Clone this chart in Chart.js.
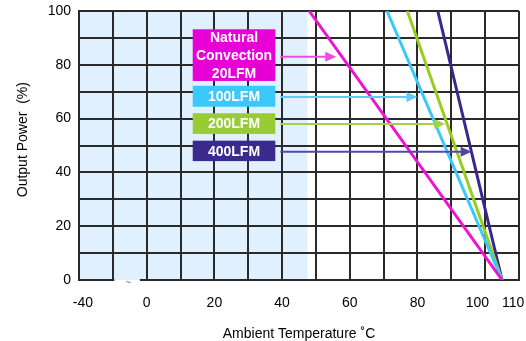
<!DOCTYPE html>
<html>
<head>
<meta charset="utf-8">
<script src="https://cdn.jsdelivr.net/npm/chart.js@4.4.1/dist/chart.umd.min.js"></script>
<style>
  html, body { margin: 0; padding: 0; background: #fff; }
  #wrap { width: 526px; height: 341px; position: relative; }
</style>
</head>
<body>
<div id="wrap"><canvas id="derating"></canvas></div>
<script>
// Output power derating against ambient temperature, one line per airflow
const seriesNames = ['Natural Convection 20LFM', '100LFM', '200LFM', '400LFM'];
const boxLabels = [['Natural', 'Convection', '20LFM'], ['100LFM'], ['200LFM'], ['400LFM']];
const derateStartTemp = [48, 71, 77, 86];      // °C where full power ends
const derateEndTemp = [105, 105, 105, 105];    // °C where output reaches zero
const fullPower = 100;
const zeroPower = 0;

// Temperature axis: the first division is a broken segment ending at -40 °C
const xTickValues = [-20, 0, 20, 40, 60, 80, 100, 110];
const xTickLabels = ['-40', '0', '20', '40', '60', '80', '100', '110'];
const yTickLabels = [0, 20, 40, 60, 80, 100];
const shadedUpTo = 47.5;   // °C, end of the full-power region

const lineColors = ['#ee12d2', '#3cc8f8', '#99cc22', '#36288c'];
const boxColors = ['#e600d6', '#3cc8f8', '#99cc33', '#3b2a8e'];
const arrowColors = ['#f04ce0', '#5ccdf8', '#a3d044', '#5546a6'];
const shadeColor = '#e0f0ff';
const gridColor = '#2a2a2a';
const FONT = "'Liberation Sans', Arial, Helvetica, sans-serif";

// Callout boxes and pointer arrows, in axis units
const callout = {
  left: 13.6, right: 38, arrowFrom: 39.5,
  spans: [[93.2, 74], [72.2, 64.4], [62, 54.3], [51.8, 44.2]],
  arrowLevel: [83, 68, 58, 47.7],
  arrowTip: [56, 80, 88.2, 96]
};
const axisBreak = { from: -10, to: -2 };

// Label nudges so end labels clear the break and the right edge
const labelPad = { '-40': '  -40', '100': '100    ', '110': '110   ' };

Chart.defaults.font.family = FONT;
Chart.defaults.font.size = 14;
Chart.defaults.color = '#000';

const shadePlugin = {
  id: 'shade',
  beforeDraw(chart) {
    const { ctx, chartArea: a, scales: { x } } = chart;
    ctx.save();
    ctx.fillStyle = shadeColor;
    const r = x.getPixelForValue(shadedUpTo);
    ctx.fillRect(a.left, a.top, r - a.left, a.bottom - a.top);
    ctx.restore();
  }
};

const calloutPlugin = {
  id: 'callouts',
  afterDatasetsDraw(chart) {
    const { ctx, scales: { x, y } } = chart;
    ctx.save();
    const l = x.getPixelForValue(callout.left);
    const r = x.getPixelForValue(callout.right);
    boxLabels.forEach((lines, i) => {
      const [hi, lo] = callout.spans[i];
      const t = y.getPixelForValue(hi), b = y.getPixelForValue(lo);
      ctx.fillStyle = boxColors[i];
      ctx.fillRect(l, t, r - l, b - t);
      ctx.fillStyle = '#fff';
      ctx.font = 'bold 14px ' + FONT;
      ctx.textAlign = 'center';
      ctx.textBaseline = 'middle';
      const cx = (l + r) / 2, cy = (t + b) / 2, lh = 18;
      lines.forEach((s, k) => {
        ctx.fillText(s, cx, cy + (k - (lines.length - 1) / 2) * lh + 1);
      });

      // arrow to its curve
      const ay = y.getPixelForValue(callout.arrowLevel[i]);
      const ax0 = x.getPixelForValue(callout.arrowFrom);
      const tip = x.getPixelForValue(callout.arrowTip[i]);
      ctx.strokeStyle = arrowColors[i];
      ctx.fillStyle = arrowColors[i];
      ctx.lineWidth = 2;
      ctx.beginPath();
      ctx.moveTo(ax0, ay);
      ctx.lineTo(tip - 8, ay);
      ctx.stroke();
      ctx.beginPath();
      ctx.moveTo(tip, ay);
      ctx.lineTo(tip - 11, ay - 5);
      ctx.lineTo(tip - 11, ay + 5);
      ctx.closePath();
      ctx.fill();
    });
    ctx.restore();
  },
  afterDraw(chart) {
    // break in the temperature axis
    const { ctx, chartArea: a, scales: { x } } = chart;
    const x0 = x.getPixelForValue(axisBreak.from) + 1.5;
    const x1 = x.getPixelForValue(axisBreak.to);
    ctx.save();
    ctx.fillStyle = shadeColor;
    ctx.fillRect(x0, a.bottom - 1.5, x1 - x0, 1.5);
    ctx.fillStyle = '#fff';
    ctx.fillRect(x0, a.bottom, x1 - x0, 2);
    ctx.fillStyle = '#8a8270';
    ctx.font = '10px ' + FONT;
    ctx.textAlign = 'center';
    ctx.textBaseline = 'middle';
    ctx.fillText('~', (x0 + x1) / 2 + 1, a.bottom + 3);
    ctx.restore();
  }
};

const datasets = seriesNames.map((name, i) => ({
  label: name,
  data: [{ x: derateStartTemp[i], y: fullPower }, { x: derateEndTemp[i], y: zeroPower }],
  borderColor: lineColors[i],
  backgroundColor: lineColors[i],
  borderWidth: 3,
  pointRadius: 0,
  tension: 0,
  fill: false
}));

new Chart(document.getElementById('derating'), {
  type: 'line',
  data: { datasets },
  plugins: [shadePlugin, calloutPlugin],
  options: {
    responsive: true,
    maintainAspectRatio: false,
    animation: false,
    events: [],
    layout: { padding: { left: 0, right: 7, top: 11, bottom: 0 } },
    plugins: { legend: { display: false }, tooltip: { enabled: false } },
    scales: {
      x: {
        type: 'linear',
        min: -20, max: 110,
        afterFit(axis) { axis.height = 61; axis.paddingLeft = 0; axis.paddingRight = 0; },
        ticks: {
          stepSize: 10, autoSkip: false, maxRotation: 0, padding: 15,
          callback(v) {
            const k = xTickValues.indexOf(v);
            if (k < 0) return '';
            const s = xTickLabels[k];
            return labelPad[s] || s;
          }
        },
        grid: { color: gridColor, lineWidth: 2, drawTicks: false },
        border: { color: gridColor, width: 2 },
        title: {
          display: true, text: 'Ambient Temperature ˚C',
          font: { size: 14, lineHeight: 1 }, padding: { top: 0, bottom: 0 }, color: '#000'
        }
      },
      y: {
        min: 0, max: 100,
        afterFit(axis) { axis.width = 79; axis.paddingTop = 0; axis.paddingBottom = 0; },
        ticks: {
          stepSize: 10, autoSkip: false, padding: 8,
          callback(v) { return yTickLabels.includes(v) ? String(v) : ''; }
        },
        grid: { color: gridColor, lineWidth: 2, drawTicks: false },
        border: { color: gridColor, width: 2 },
        title: {
          display: true, text: '   Output Power  (%)',
          font: { size: 14, lineHeight: 1 }, padding: { top: 16, bottom: 0 }, color: '#000'
        }
      }
    }
  }
});
</script>
</body>
</html>
